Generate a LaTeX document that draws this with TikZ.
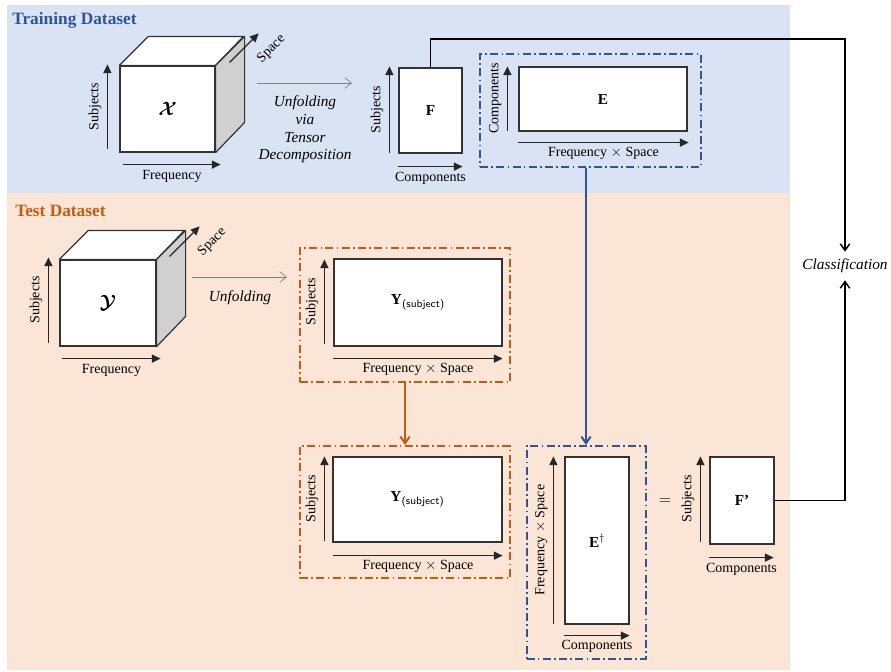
\documentclass[tikz,border=0pt]{standalone}
\usepackage{amsmath, amssymb}
\usepackage{fontspec}
\setmainfont{Liberation Serif}
\usepackage{tikz}
\usetikzlibrary{arrows.meta, positioning, calc}
\definecolor{trainblue}{HTML}{2F5597}
\definecolor{trainlight}{HTML}{DAE3F3}
\definecolor{testorange}{HTML}{C55A11}
\definecolor{testlight}{HTML}{FBE5D6}
\definecolor{sidegray}{HTML}{D0D0D0}
\definecolor{linegray}{HTML}{808080}

\begin{document}
\begin{tikzpicture}[
    x=0.75pt, y=-0.75pt,
    panel/.style={
        font=\bfseries\fontsize{13}{15}\selectfont,
        anchor=west,
        inner sep=0pt
    },
    mbox/.style={
        draw=black!80,
        line width=0.9pt,
        fill=white,
        inner sep=0pt,
        font=\bfseries\fontsize{11.5}{13}\selectfont
    },
    face/.style={
        draw=black!80,
        line width=0.9pt,
        line join=round
    },
    frame/.style={
        dash pattern=on 6pt off 2.5pt on 1.2pt off 2.5pt,
        line width=1.5pt,
        inner sep=0pt
    },
    axis/.style={
        -{Triangle[length=6.5pt, width=6pt]},
        line width=1pt,
        draw=black!85
    },
    axlabel/.style={
        font=\fontsize{10.5}{12}\selectfont,
        inner sep=0pt
    },
    unfold/.style={
        -{Straight Barb[length=5pt, width=8pt]},
        line width=0.5pt,
        draw=linegray
    },
    flow/.style={
        -{Straight Barb[length=5pt, width=7pt]},
        line width=1.1pt
    },
    note/.style={
        font=\itshape\fontsize{11.5}{13.3}\selectfont,
        align=center,
        inner sep=0pt
    }
]

% Background panels
\useasboundingbox (0,0) rectangle (891,671);
\fill[trainlight] (7,5) rectangle (790,193);
\fill[testlight] (7,193) rectangle (790,670);
\node[panel, text=trainblue] (traintitle) at (12,20) {Training Dataset};
\node[panel, text=testorange] (testtitle) at (15,211) {Test Dataset};

% Training tensor
\node[mbox, minimum width=71.25pt, minimum height=64.5pt] (cubeX) at (167.5,109) {\Large$\boldsymbol{\mathcal{X}}$};
\draw[face, fill=white] (cubeX.north west) -- ++(29,-29) -- ++(95,0) -- (cubeX.north east) -- cycle;
\draw[face, fill=sidegray] (cubeX.north east) -- ++(29,-29) -- ++(0,86) -- (cubeX.south east) -- cycle;
\draw[axis] ($(cubeX.north east)+(14,-3)$) -- ++(29,-29) node[axlabel, pos=0.95, sloped, below=10pt] {Space};
\draw[axis] ($(cubeX.south west)+(-12,-4)$) -- ($(cubeX.north west)+(-12,-1)$) node[axlabel, midway, sloped, above=4pt] {Subjects};
\draw[axis] ($(cubeX.south west)+(4,12)$) -- ($(cubeX.south east)+(5,12)$) node[axlabel, midway, below=4pt] {Frequency};

\coordinate (uxA) at (257,83);
\coordinate (uxB) at (352,83);
\draw[unfold] (uxA) -- (uxB);
\node[note] (unfoldX) at (305,129.5) {Unfolding\\via\\Tensor\\Decomposition};

% Training factors F and E
\node[mbox, minimum width=47.25pt, minimum height=63.75pt] (F) at (430.5,110.5) {F};
\draw[axis] ($(F.south west)+(-9,-1)$) -- ($(F.north west)+(-9,-1)$) node[axlabel, midway, sloped, above=4pt] {Subjects};
\draw[axis] ($(F.south west)+(0,13)$) -- ($(F.south east)+(0,13)$) node[axlabel, midway, below=4pt] {Components};

\node[frame, draw=trainblue, minimum width=165.75pt, minimum height=84.75pt] (Eframe) at (590.5,110.5) {};
\node[mbox, minimum width=126pt, minimum height=48pt] (E) at (603,99) {E};
\draw[axis] ($(E.south west)+(-11,-1)$) -- ($(E.north west)+(-11,0)$) node[axlabel, midway, sloped, above=4pt] {Components};
\draw[axis] ($(E.south west)+(0,11)$) -- ($(E.south east)+(1,11)$) node[axlabel, midway, below=3pt] {Frequency $\times$ Space};

% Test tensor
\node[mbox, minimum width=72pt, minimum height=64.5pt] (cubeY) at (108,303) {\Large$\boldsymbol{\mathcal{Y}}$};
\draw[face, fill=white] (cubeY.north west) -- ++(29,-29) -- ++(96,0) -- (cubeY.north east) -- cycle;
\draw[face, fill=sidegray] (cubeY.north east) -- ++(29,-29) -- ++(0,86) -- (cubeY.south east) -- cycle;
\draw[axis] ($(cubeY.north east)+(13,-3)$) -- ++(30,-30) node[axlabel, pos=0.95, sloped, below=10pt] {Space};
\draw[axis] ($(cubeY.south west)+(-11,-4)$) -- ($(cubeY.north west)+(-11,-2)$) node[axlabel, midway, sloped, above=4pt] {Subjects};
\draw[axis] ($(cubeY.south west)+(3,12)$) -- ($(cubeY.south east)+(4,12)$) node[axlabel, midway, below=4pt] {Frequency};

\coordinate (uyA) at (192,277);
\coordinate (uyB) at (287,277);
\draw[unfold] (uyA) -- (uyB);
\node[note] (unfoldY) at (240,298) {Unfolding};

% Unfolded test matrix
\node[frame, draw=testorange, minimum width=157.5pt, minimum height=100.5pt] (Y1frame) at (405,315) {};
\node[mbox, minimum width=126pt, minimum height=65.25pt] (Y1) at (418,302.5) {Y$_{\text{\normalfont\sffamily (subject)}}$};
\draw[axis] ($(Y1.south west)+(-9,-3)$) -- ($(Y1.north west)+(-9,1)$) node[axlabel, midway, sloped, above=4pt] {Subjects};
\draw[axis] ($(Y1.south west)+(0,12)$) -- ($(Y1.south east)+(0,12)$) node[axlabel, midway, below=3pt] {Frequency $\times$ Space};

% Projection Y E^dagger = F'
\node[frame, draw=testorange, minimum width=157.5pt, minimum height=99pt] (Y2frame) at (405,512) {};
\node[mbox, minimum width=126.75pt, minimum height=63.75pt] (Y2) at (417.5,499.5) {Y$_{\text{\normalfont\sffamily (subject)}}$};
\draw[axis] ($(Y2.south west)+(-8,-2)$) -- ($(Y2.north west)+(-8,0)$) node[axlabel, midway, sloped, above=4pt] {Subjects};
\draw[axis] ($(Y2.south west)+(1,13)$) -- ($(Y2.south east)+(0,13)$) node[axlabel, midway, below=3pt] {Frequency $\times$ Space};

\node[frame, draw=trainblue, minimum width=89.25pt, minimum height=159.75pt] (Edagframe) at (586,552.5) {};
\node[mbox, minimum width=48pt, minimum height=125.25pt] (Edag) at (597,540.5) {E$^{\dagger}$};
\draw[axis] ($(Edag.south west)+(-11,-1)$) -- ($(Edag.north west)+(-11,0)$) node[axlabel, midway, sloped, above=4pt] {Frequency $\times$ Space};
\draw[axis] ($(Edag.south west)+(0,11)$) -- ($(Edag.south east)+(0,11)$) node[axlabel, midway, below=3pt] {Components};

\node[axlabel, font=\fontsize{13}{15}\selectfont] (eq) at (665,502) {$=$};

\node[mbox, minimum width=48pt, minimum height=65.25pt] (Fp) at (742,500.5) {F’};
\draw[axis] ($(Fp.south west)+(-9,-3)$) -- ($(Fp.north west)+(-9,0)$) node[axlabel, midway, sloped, above=4pt] {Subjects};
\draw[axis] ($(Fp.south west)+(0,13)$) -- ($(Fp.south east)+(-1,13)$) node[axlabel, midway, below=4pt] {Components};

% Classification
\node[note, minimum height=21pt] (class) at (845,266) {Classification};
\coordinate (toprun) at (845,39);
\draw[flow] (F.north) |- (toprun) -- (class.north);
\draw[flow] (Fp.east) -| (class.south);

% Arrows between stages
\draw[flow, draw=trainblue, line width=1.5pt] (Eframe.south -| Edagframe.north) -- (Edagframe.north);
\draw[flow, draw=testorange, line width=1.5pt] (Y1frame.south) -- (Y2frame.north);

\end{tikzpicture}
\end{document}
